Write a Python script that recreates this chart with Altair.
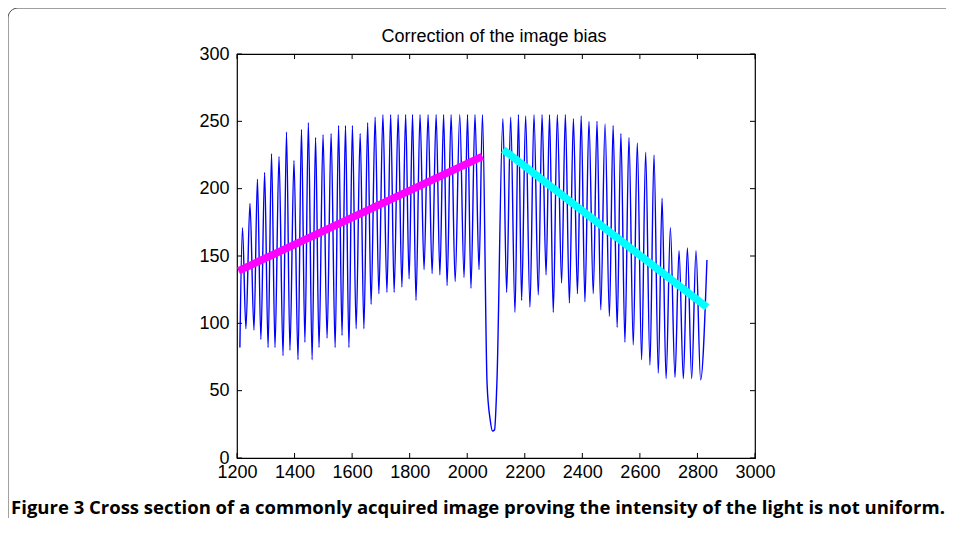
import altair as alt
import pandas as pd

# ---- data ----
start_x, start_y = 1210, 82

left_peak_x = [1219, 1245, 1271, 1296, 1320, 1346, 1372, 1398, 1424, 1448, 1473,
               1499, 1527, 1553, 1577, 1601, 1628, 1654, 1680, 1707, 1734, 1760,
               1786, 1810, 1836, 1864, 1892, 1918, 1944, 1974, 2001, 2027, 2053]
left_peak_y = [171, 189, 207, 212, 226, 224, 242, 221, 244, 249, 238,
               240, 241, 247, 247, 247, 241, 249, 253, 255, 255, 255,
               255, 255, 255, 255, 255, 255, 255, 255, 255, 255, 255]
left_trough_x = [1231, 1259, 1283, 1308, 1332, 1360, 1384, 1412, 1436, 1461, 1485,
                 1513, 1541, 1565, 1589, 1614, 1641, 1666, 1693, 1721, 1746, 1773,
                 1798, 1822, 1850, 1878, 1905, 1930, 1958, 1989, 2013, 2041]
left_trough_y = [96, 95, 88, 82, 82, 76, 80, 73, 86, 73, 82,
                 89, 82, 91, 82, 96, 96, 114, 122, 123, 123, 127,
                 133, 117, 140, 137, 136, 128, 131, 134, 126, 140]

dip_x = [2069, 2080, 2088, 2095, 2103]
dip_y = [55, 28, 20, 21, 55]

right_peak_x = [2124, 2151, 2178, 2203, 2232, 2260, 2286, 2313, 2341, 2369, 2396,
                2423, 2451, 2479, 2507, 2534, 2562, 2591, 2620, 2649, 2677, 2706,
                2736, 2765, 2795]
right_peak_y = [252, 253, 255, 254, 255, 255, 255, 255, 255, 252, 254,
                250, 250, 248, 247, 241, 238, 234, 227, 225, 193, 171,
                154, 156, 154]
right_trough_x = [2137, 2166, 2189, 2218, 2247, 2274, 2299, 2328, 2355, 2383, 2409,
                  2438, 2464, 2494, 2521, 2548, 2577, 2606, 2635, 2664, 2691, 2722,
                  2751, 2780, 2811]
right_trough_y = [123, 108, 117, 112, 121, 136, 108, 130, 115, 122, 116,
                  122, 110, 105, 97, 86, 84, 73, 69, 63, 59, 60,
                  59, 59, 58]
end_x, end_y = 2833, 147

magenta_x = [1205, 2053]
magenta_y = [139, 224]
cyan_x = [2125, 2833]
cyan_y = [229, 112]

x_ticks = [1200, 1400, 1600, 1800, 2000, 2200, 2400, 2600, 2800, 3000]
y_ticks = [0, 50, 100, 150, 200, 250, 300]

title_text = "Correction of the image bias"
caption_text = ("Figure 3 Cross section of a commonly acquired image proving the "
                "intensity of the light is not uniform.")

# ---- build tables ----
xs = [start_x] + left_peak_x + left_trough_x + dip_x + right_peak_x + right_trough_x + [end_x]
ys = [start_y] + left_peak_y + left_trough_y + dip_y + right_peak_y + right_trough_y + [end_y]
signal = pd.DataFrame({"x": xs, "y": ys}).sort_values("x").reset_index(drop=True)

mag = pd.DataFrame({"x": magenta_x, "y": magenta_y})
cya = pd.DataFrame({"x": cyan_x, "y": cyan_y})
xt = pd.DataFrame({"x": x_ticks})
yt = pd.DataFrame({"y": y_ticks})
one = pd.DataFrame({"t": [title_text], "c": [caption_text]})

W, H = 518, 404
xscale = alt.Scale(domain=[1200, 3000], nice=False, zero=False)
yscale = alt.Scale(domain=[0, 300], nice=False, zero=False)

FONT = "Liberation Sans"

xaxis = alt.Axis(values=x_ticks, format="d", ticks=False, grid=False, domain=False,
                 labelFont=FONT, labelFontSize=18, labelColor="black",
                 labelPadding=5, labelFlush=False, labelOverlap=False, title="")
yaxis = alt.Axis(values=y_ticks, format="d", ticks=False, grid=False, domain=False,
                 labelFont=FONT, labelFontSize=18, labelColor="black",
                 labelPadding=8, labelFlush=False, labelOverlap=False, title="")

X = alt.X("x:Q", scale=xscale, axis=xaxis)
Y = alt.Y("y:Q", scale=yscale, axis=yaxis)

line = alt.Chart(signal).mark_line(color="#0000FF", strokeWidth=1.4,
                                   interpolate="monotone").encode(x=X, y=Y)

mline = alt.Chart(mag).mark_line(color="#FF00FF", strokeWidth=7.5,
                                 strokeCap="butt").encode(x=X, y=Y)
cline = alt.Chart(cya).mark_line(color="#00FFFF", strokeWidth=7.5,
                                 strokeCap="butt").encode(x=X, y=Y)

xt_bottom = alt.Chart(xt).mark_rule(color="black", strokeWidth=1).encode(
    x=X, y=alt.value(H), y2=alt.value(H - 5))
xt_top = alt.Chart(xt).mark_rule(color="black", strokeWidth=1).encode(
    x=X, y=alt.value(0), y2=alt.value(5))
yt_left = alt.Chart(yt).mark_rule(color="black", strokeWidth=1).encode(
    y=Y, x=alt.value(0), x2=alt.value(5))
yt_right = alt.Chart(yt).mark_rule(color="black", strokeWidth=1).encode(
    y=Y, x=alt.value(W), x2=alt.value(W - 5))

frame = alt.Chart(one).mark_rect(fillOpacity=0, stroke="#444444", strokeWidth=1,
                                 cornerRadius=10).encode(
    x=alt.value(-229), x2=alt.value(900), y=alt.value(-46), y2=alt.value(600))

title = alt.Chart(one).mark_text(font=FONT, fontSize=18, color="black",
                                 align="center", baseline="alphabetic").encode(
    x=alt.value(W / 2 - 2), y=alt.value(-12), text="t:N")

caption = alt.Chart(one).mark_text(font="Open Sans", fontSize=18.5, fontWeight="bold",
                                   color="black", align="center",
                                   baseline="alphabetic").encode(
    x=alt.value(241), y=alt.value(H + 56), text="c:N")

chart = alt.layer(frame, line, mline, cline, xt_bottom, xt_top, yt_left, yt_right,
                  title, caption).properties(
    width=W, height=H,
    autosize=alt.AutoSizeParams(type="none"),
    padding={"left": 229, "top": 46, "right": 191, "bottom": 60},
).configure(background="white").configure_view(stroke="black", strokeWidth=1.2)

chart.save("out.html", embed_options={"renderer": "svg", "actions": False})
